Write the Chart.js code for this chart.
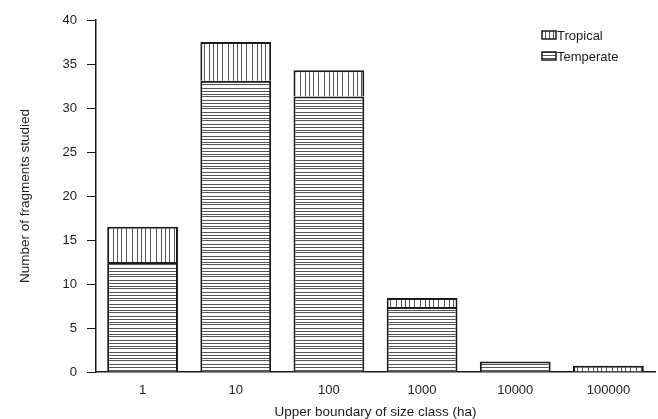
<!DOCTYPE html>
<html>
<head>
<meta charset="utf-8">
<script src="https://cdn.jsdelivr.net/npm/chart.js@4"></script>
<style>
  html, body { margin: 0; padding: 0; background: #fff; }
  #wrap { width: 658px; height: 419px; }
</style>
</head>
<body>
<div id="wrap"><canvas id="chart"></canvas></div>
<script>
// data
const sizeClasses = ["1", "10", "100", "1000", "10000", "100000"];
const temperate = [12.5, 33.1, 31.3, 7.4, 1.2, null];
const tropical = [4.0, 4.4, 3.0, 1.0, null, 0.7];
const yTicks = [0, 5, 10, 15, 20, 25, 30, 35, 40];

const FONT = "'Liberation Sans', Arial, sans-serif";
const INK = "#1c1c1c";

// hatching patterns (vertical = tropical, horizontal = temperate)
function makePattern(vertical) {
  const c = document.createElement("canvas");
  c.width = vertical ? 24 : 8;
  c.height = vertical ? 8 : 12;
  const g = c.getContext("2d");
  g.fillStyle = "#fff";
  g.fillRect(0, 0, c.width, c.height);
  g.fillStyle = "#555";
  if (vertical) {
    [1, 6, 12, 17, 21].forEach(x => g.fillRect(x, 0, 1, c.height));
  } else {
    [0, 4, 7, 10].forEach(y => g.fillRect(0, y, c.width, 1));
  }
  return g.createPattern(c, "repeat");
}
const tropFill = makePattern(true);
const tempFill = makePattern(false);

// small legend, top right, stacked
const legendPlugin = {
  id: "sideLegend",
  afterDraw(chart) {
    const ctx = chart.ctx;
    const items = [["Tropical", tropFill], ["Temperate", tempFill]];
    ctx.save();
    ctx.font = "13px " + FONT;
    ctx.textBaseline = "middle";
    items.forEach((it, i) => {
      const y = 35 + i * 21;
      ctx.fillStyle = it[1];
      ctx.fillRect(542, y - 4, 14, 8);
      ctx.strokeStyle = INK;
      ctx.lineWidth = 1.5;
      ctx.strokeRect(542, y - 4, 14, 8);
      ctx.fillStyle = INK;
      ctx.fillText(it[0], 557, y + 1);
    });
    ctx.restore();
  }
};

new Chart(document.getElementById("chart"), {
  type: "bar",
  data: {
    labels: sizeClasses,
    datasets: [
      {
        label: "Temperate",
        data: temperate,
        backgroundColor: tempFill,
        borderColor: INK,
        borderWidth: 2
      },
      {
        label: "Tropical",
        data: tropical,
        backgroundColor: tropFill,
        borderColor: INK,
        borderWidth: 2
      }
    ]
  },
  options: {
    responsive: true,
    maintainAspectRatio: false,
    animation: false,
    barPercentage: 0.76,
    categoryPercentage: 1,
    layout: { padding: { top: 20, right: 3, left: 0, bottom: 0 } },
    plugins: {
      legend: { display: false },
      tooltip: { enabled: false }
    },
    scales: {
      x: {
        stacked: true,
        afterFit: s => { s.height = 47; },
        grid: { display: false },
        border: { color: INK, width: 1.5 },
        ticks: { color: INK, padding: 3, font: { family: FONT, size: 13 } },
        title: {
          display: true,
          text: "Upper boundary of size class (ha)",
          color: INK,
          font: { family: FONT, size: 13.5 },
          padding: { top: 0, bottom: -1 }
        }
      },
      y: {
        stacked: true,
        min: 0,
        max: 40,
        afterFit: s => { s.width = 96; },
        afterBuildTicks: s => { s.ticks = yTicks.map(v => ({ value: v })); },
        grid: { drawOnChartArea: false, tickLength: 9, color: INK, lineWidth: 1 },
        border: { color: INK, width: 1.5 },
        ticks: { color: INK, padding: 10, font: { family: FONT, size: 13 } },
        title: {
          display: true,
          text: "Number of fragments studied",
          color: INK,
          font: { family: FONT, size: 13.5 },
          padding: { top: 17, bottom: 17 }
        }
      }
    }
  },
  plugins: [legendPlugin]
});
</script>
</body>
</html>
